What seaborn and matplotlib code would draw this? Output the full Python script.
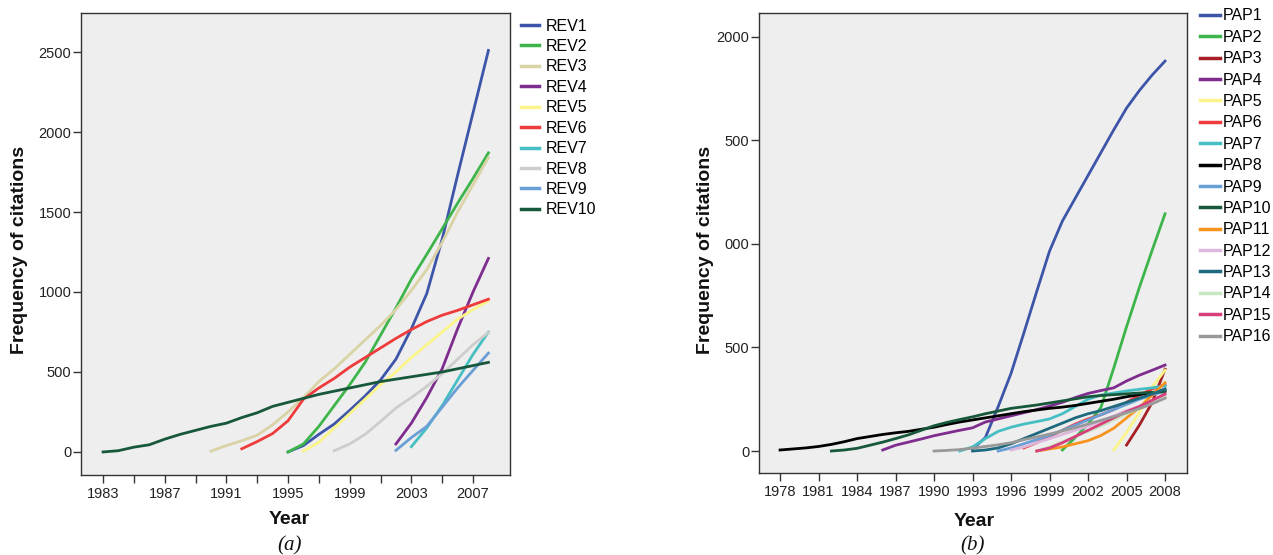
import matplotlib
matplotlib.use("Agg")
import matplotlib.pyplot as plt
import seaborn as sns
import pandas as pd

# ---------------- data: panel (a) ----------------
rev_names = ["REV1", "REV2", "REV3", "REV4", "REV5", "REV6", "REV7", "REV8", "REV9", "REV10"]
rev_start = [1995, 1995, 1990, 2002, 1996, 1992, 2003, 1998, 2002, 1983]
rev1 = [0, 40, 110, 175, 260, 350, 450, 580, 770, 990, 1330, 1730, 2120, 2510]
rev2 = [0, 50, 160, 290, 420, 560, 730, 900, 1080, 1235, 1395, 1555, 1710, 1870]
rev3 = [5, 40, 70, 105, 170, 250, 340, 440, 520, 610, 700, 790, 890, 1010, 1140, 1310, 1500, 1670, 1840]
rev4 = [50, 180, 340, 520, 770, 1000, 1210]
rev5 = [5, 60, 150, 240, 330, 420, 500, 590, 670, 750, 830, 890, 945]
rev6 = [20, 65, 115, 195, 330, 400, 460, 530, 590, 650, 710, 765, 815, 855, 885, 920, 955]
rev7 = [33, 150, 290, 450, 610, 750]
rev8 = [8, 50, 110, 190, 275, 340, 410, 490, 580, 670, 748]
rev9 = [10, 90, 160, 280, 400, 510, 618]
rev10 = [0, 8, 30, 45, 80, 110, 135, 160, 180, 215, 245, 285, 310, 335, 360, 380, 400,
         420, 440, 455, 470, 485, 500, 520, 540, 560]
rev_values = [rev1, rev2, rev3, rev4, rev5, rev6, rev7, rev8, rev9, rev10]
rev_colors = ["#3D55A8", "#3DB54A", "#D9D3A5", "#7E2C8E", "#FAF48A",
              "#EE3B3B", "#45BFC3", "#CDCDCD", "#6A9FD6", "#17573A"]

# ---------------- data: panel (b) ----------------
pap_names = ["PAP%d" % i for i in range(1, 17)]
pap_start = [1993, 2000, 2005, 1986, 2004, 1997, 1992, 1978, 1995, 1982, 1998, 1996, 1993, 1998, 1998, 1990]
pap1 = [10, 65, 215, 375, 570, 770, 965, 1110, 1220, 1330, 1440, 1550, 1655, 1740, 1815, 1882]
pap2 = [5, 65, 130, 210, 400, 600, 790, 970, 1145]
pap3 = [29, 125, 235, 395]
pap4 = [5, 28, 43, 58, 74, 87, 100, 112, 140, 155, 170, 185, 200, 217, 235, 258, 278, 292,
        305, 338, 366, 390, 415]
pap5 = [5, 90, 185, 310, 390]
pap6 = [15, 40, 70, 100, 130, 155, 175, 200, 235, 270, 300, 320]
pap7 = [0, 20, 60, 95, 115, 130, 142, 155, 180, 215, 250, 270, 280, 290, 298, 305, 315]
pap8 = [5, 10, 15, 22, 32, 45, 60, 70, 80, 88, 95, 105, 115, 128, 140, 150, 160, 170, 180,
        190, 198, 206, 212, 220, 230, 240, 250, 262, 272, 282, 294]
pap9 = [0, 15, 35, 55, 75, 100, 125, 150, 175, 200, 225, 250, 270, 290]
pap10 = [0, 5, 13, 28, 43, 60, 78, 100, 122, 138, 152, 165, 180, 193, 206, 214, 222, 232,
         242, 252, 262, 268, 272, 276, 280, 283, 286]
pap11 = [0, 10, 20, 35, 50, 75, 110, 160, 210, 270, 330]
pap12 = [5, 20, 40, 60, 80, 100, 120, 145, 170, 195, 215, 240, 265]
pap13 = [0, 5, 15, 35, 60, 85, 110, 135, 160, 180, 195, 215, 235, 255, 275, 300]
pap14 = [0, 20, 45, 70, 95, 120, 150, 180, 205, 230, 260]
pap15 = [0, 15, 40, 70, 100, 130, 160, 190, 215, 245, 275]
pap16 = [0, 3, 7, 14, 22, 30, 40, 55, 68, 82, 97, 113, 130, 148, 166, 185, 205, 228, 255]
pap_values = [pap1, pap2, pap3, pap4, pap5, pap6, pap7, pap8, pap9, pap10,
              pap11, pap12, pap13, pap14, pap15, pap16]
pap_colors = ["#3D55A8", "#3DB54A", "#A51F24", "#7E2C8E", "#FAF48A", "#EE3B3B",
              "#45BFC3", "#000000", "#6A9FD6", "#17573A", "#F7941E", "#DDB8DD",
              "#1D6A7E", "#C8E6C0", "#D63F7B", "#999999"]

rev_xticks = list(range(1983, 2008, 4))
rev_xminor = list(range(1985, 2008, 4))
rev_yticks = [0, 500, 1000, 1500, 2000, 2500]
pap_xticks = list(range(1978, 2009, 3))
pap_yticks = [0, 500, 1000, 1500, 2000]
pap_yticklabels = ["0", "500", "000", "500", "2000"]


def long_df(names, starts, values):
    rows = []
    for n, s, v in zip(names, starts, values):
        for i, val in enumerate(v):
            rows.append({"Series": n, "Year": s + i, "Citations": val})
    return pd.DataFrame(rows)


plt.rcParams['font.family'] = ['Liberation Sans', 'DejaVu Sans']

W, H = 1273, 555
fig = plt.figure(figsize=(W / 100, H / 100), dpi=100)


def px_axes(l, t, r, b):
    return fig.add_axes([l / W, 1 - b / H, (r - l) / W, (b - t) / H])


axA = px_axes(81, 13, 510, 475)
axB = px_axes(759, 13, 1187, 473)

dfA = long_df(rev_names, rev_start, rev_values)
dfB = long_df(pap_names, pap_start, pap_values)

sns.lineplot(data=dfA, x="Year", y="Citations", hue="Series", hue_order=rev_names,
             palette=dict(zip(rev_names, rev_colors)), linewidth=2.0, ax=axA)
sns.lineplot(data=dfB, x="Year", y="Citations", hue="Series", hue_order=pap_names,
             palette=dict(zip(pap_names, pap_colors)), linewidth=2.0, ax=axB)

for ax in (axA, axB):
    ax.set_facecolor("#EEEEEE")
    for sp in ax.spines.values():
        sp.set_color("#333333")
        sp.set_linewidth(1.0)
    ax.set_xlabel("")
    ax.set_ylabel("")
    ax.tick_params(which="both", direction="out", length=6, width=1.0, color="#333333",
                   labelsize=10.5, labelcolor="#222222")
    ax.tick_params(axis="y", pad=1)
    ax.tick_params(axis="x", pad=2.5)
    ax.grid(False)

axA.set_xlim(1981.57, 2009.40)
axA.set_ylim(-144, 2744)
axA.set_xticks(rev_xticks)
axA.set_xticks(rev_xminor, minor=True)
axA.set_yticks(rev_yticks)

axB.set_xlim(1976.36, 2009.71)
axB.set_ylim(-106, 2114)
axB.set_xticks(pap_xticks)
axB.set_yticks(pap_yticks)
axB.set_yticklabels(pap_yticklabels)

sns.move_legend(axA, "upper left", bbox_to_anchor=(1.0256, 0.988), frameon=False, title=None,
                fontsize=11.5, handlelength=1.15, handletextpad=0.4, labelspacing=0.34,
                borderaxespad=0, borderpad=0)
sns.move_legend(axB, "upper left", bbox_to_anchor=(1.0304, 1.010), frameon=False, title=None,
                fontsize=11.5, handlelength=1.25, handletextpad=0.15, labelspacing=0.40,
                borderaxespad=0, borderpad=0)
for ax in (axA, axB):
    for ln in ax.get_legend().get_lines():
        ln.set_linewidth(2.5)

lab = dict(ha="center", va="center", fontweight="bold", fontsize=14, color="#111111")
fig.text(20 / W, 1 - 250 / H, "Frequency of citations", rotation=90, **lab)
fig.text(706 / W, 1 - 250 / H, "Frequency of citations", rotation=90, **lab)
fig.text(289 / W, 1 - 520 / H, "Year", **lab)
fig.text(974 / W, 1 - 522 / H, "Year", **lab)
cap = dict(ha="center", va="center", fontsize=15, style="italic",
           family=["Liberation Serif", "DejaVu Serif"], color="#111111")
fig.text(290 / W, 1 - 546 / H, "(a)", **cap)
fig.text(973 / W, 1 - 546 / H, "(b)", **cap)

fig.savefig("out.png", dpi=100)
